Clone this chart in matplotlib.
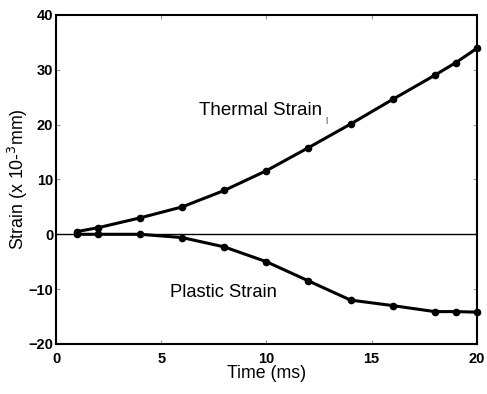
import matplotlib.pyplot as plt

TIME_MS = [1, 2, 4, 6, 8, 10, 12, 14, 16, 18, 19, 20]
THERMAL_STRAIN = [0.5, 1.2, 3.0, 5.0, 8.0, 11.6, 15.8, 20.1, 24.6, 29.0, 31.3, 33.9]
PLASTIC_STRAIN = [0.0, 0.0, 0.0, -0.6, -2.3, -5.0, -8.5, -12.0, -13.0, -14.1, -14.1, -14.2]

font = "Liberation Sans"

fig = plt.figure(figsize=(4.87, 3.94), dpi=100)
ax = fig.add_axes([0.115, 0.127, 0.864, 0.835])

ax.axhline(0, color="black", linewidth=1.0)
ax.plot(TIME_MS, THERMAL_STRAIN, color="black", linewidth=2.2, marker="o",
        markersize=4.5, clip_on=False, zorder=3)
ax.plot(TIME_MS, PLASTIC_STRAIN, color="black", linewidth=2.2, marker="o",
        markersize=4.5, clip_on=False, zorder=3)

ax.set_xlim(0, 20)
ax.set_ylim(-20, 40)
ax.set_xticks([0, 5, 10, 15, 20])
ax.set_yticks([-20, -10, 0, 10, 20, 30, 40])
ax.tick_params(direction="in", length=3, color="#999999", top=True, right=True,
               labelsize=10.5)
ax.tick_params(axis="x", pad=6)
ax.tick_params(axis="y", pad=2)
for lab in ax.get_xticklabels() + ax.get_yticklabels():
    lab.set_family(font)
    lab.set_fontweight("bold")
for s in ax.spines.values():
    s.set_linewidth(1.5)

ax.set_xlabel("Time (ms)", family=font, fontsize=12.8, labelpad=-1)
ax.set_ylabel("Strain (x 10-$^{3}$mm)", family=font, fontsize=12.8, labelpad=-1)

ax.text(6.8, 22.6, "Thermal Strain", family=font, fontsize=13.5, va="center")
ax.text(12.82, 20.8, "|", family=font, fontsize=6, va="center")
ax.text(5.4, -10.6, "Plastic Strain", family=font, fontsize=13.2, va="center")

fig.savefig("out.png", dpi=100)
